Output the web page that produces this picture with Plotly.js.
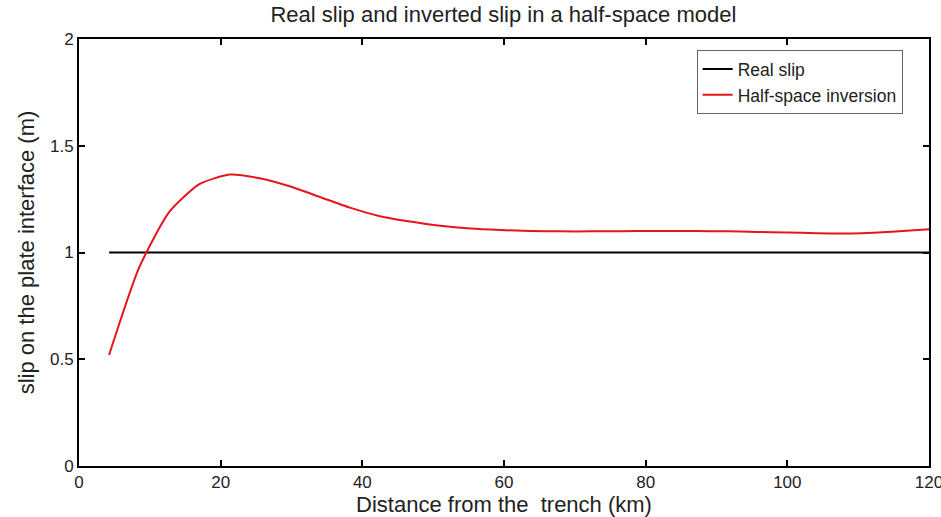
<!DOCTYPE html>
<html>
<head>
<meta charset="utf-8">
<script src="https://cdn.plot.ly/plotly-3.0.1.min.js"></script>
<style>html,body{margin:0;padding:0;background:#fff;}#chart{width:941px;height:517px;}</style>
</head>
<body>
<div id="chart"></div>
<script>
const realX = [4.25, 120];
const realY = [1, 1];
const invX = [4.25, 8.5, 12.75, 17, 21.25, 25.5, 29.75, 34, 38.25, 42.5, 46.75, 51, 55.25, 59.5, 63.75, 68, 72.25, 76.5, 80.75, 85, 89.25, 93.5, 97.75, 102, 106.25, 110.5, 114.75, 120];
const invY = [0.52, 0.93, 1.19, 1.32, 1.365, 1.348, 1.31, 1.26, 1.21, 1.17, 1.145, 1.125, 1.112, 1.105, 1.101, 1.099, 1.099, 1.1, 1.101, 1.101, 1.1, 1.098, 1.095, 1.092, 1.089, 1.09, 1.097, 1.109];
const xTicks = [0, 20, 40, 60, 80, 100, 120];
const yTicks = [0, 0.5, 1, 1.5, 2];
const yTickText = ['0', '0.5', '1', '1.5', '2'];

const font = 'Liberation Sans, Arial, sans-serif';
const data = [
  {x: realX, y: realY, mode: 'lines', name: 'Real slip', line: {color: '#000000', width: 2}},
  {x: invX, y: invY, mode: 'lines', name: 'Half-space inversion', line: {color: '#e8141c', width: 2, shape: 'spline', smoothing: 0.6}}
];
const axisBase = {
  showline: true, linecolor: '#000', linewidth: 2, mirror: 'ticks',
  ticks: 'inside', ticklen: 6, tickwidth: 2, tickcolor: '#000',
  showgrid: false, zeroline: false, ticklabeloverflow: 'allow',
  tickfont: {family: font, size: 17, color: '#222'}
};
const layout = {
  width: 941, height: 517,
  margin: {l: 79, r: 12, t: 39, b: 51},
  paper_bgcolor: '#fff', plot_bgcolor: '#fff',
  title: {text: 'Real slip and inverted slip in a half-space model', font: {family: font, size: 22, color: '#222'}, x: 0.535, xanchor: 'center', y: 0.972, yanchor: 'middle'},
  xaxis: Object.assign({}, axisBase, {range: [0, 120], tickvals: xTicks, ticktext: xTicks.map(String),
    title: {text: 'Distance from the&nbsp; trench (km)', font: {family: font, size: 22, color: '#222'}, standoff: 0}}),
  yaxis: Object.assign({}, axisBase, {range: [0, 2], tickvals: yTicks, ticktext: yTickText,
    title: {text: 'slip on the plate interface (m)', font: {family: font, size: 22, color: '#222'}, standoff: 9}}),
  legend: {x: 0.969, xanchor: 'right', y: 0.974, yanchor: 'top', bordercolor: '#666', borderwidth: 1, bgcolor: '#fff',
    font: {family: font, size: 17.5, color: '#222'}, tracegroupgap: 0},
  showlegend: true
};
Plotly.newPlot('chart', data, layout, {displayModeBar: false, staticPlot: true});
</script>
</body>
</html>
